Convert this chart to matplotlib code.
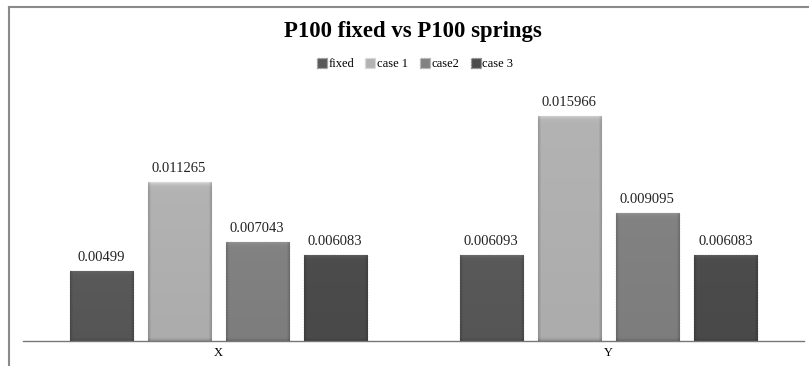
import matplotlib
matplotlib.use("Agg")
import matplotlib.pyplot as plt
from matplotlib.lines import Line2D
from matplotlib.colors import to_rgb
import numpy as np

plt.rcParams['font.family'] = ['Liberation Serif', 'DejaVu Serif']

categories = ["X", "Y"]
series_names = ["fixed", "case 1", "case2", "case 3"]
fixed = [0.00499, 0.006093]
case1 = [0.011265, 0.015966]
case2 = [0.007043, 0.009095]
case3 = [0.006083, 0.006083]
label_text = [["0.00499", "0.006093"], ["0.011265", "0.015966"],
              ["0.007043", "0.009095"], ["0.006083", "0.006083"]]

series = [fixed, case1, case2, case3]
colors = ["#595959", "#b3b3b3", "#828282", "#4c4c4c"]
edges = ["#9a9a9a", "#d8d8d8", "#b0b0b0", "#8c8c8c"]

W, H = 809, 366
fig = plt.figure(figsize=(W / 100, H / 100), dpi=100)
ax = fig.add_axes([23 / W, 25 / H, (803.5 - 23) / W, 254 / H])
ax.set_xlim(-0.5, 1.5)
ax.set_ylim(0, 0.018)


def bevel_image(color, nx=64, ny=200, px_h=100):
    """Shaded bar fill: soft dark rim on the sides/bottom, light top edge."""
    base = np.array(to_rgb(color))
    xs = np.linspace(0, 1, nx)
    ys = np.linspace(0, 1, ny)  # 0 = top, 1 = bottom
    side = np.clip(np.minimum(xs, 1 - xs) * 64 / 3.0, 0, 1)
    shade = 0.85 + 0.15 * side[None, :]
    top_px = ys[:, None] * px_h
    shade = shade + 0.22 * np.exp(-top_px / 2.0) - 0.04 * ys[:, None]
    bot = np.clip((1 - ys) * px_h / 3.0, 0, 1)[:, None]
    shade = shade * (0.85 + 0.15 * bot)
    img = np.clip(base[None, None, :] * shade[:, :, None], 0, 1)
    return img


x = np.arange(len(categories))
width = 0.1615
offsets = [-0.3, -0.1, 0.1, 0.3]
px_per_unit = 254 / 0.018
handles = []
for vals, off, c, ec, name, labs in zip(series, offsets, colors, edges, series_names, label_text):
    bars = ax.bar(x + off, vals, width, color=c, edgecolor=ec, linewidth=1.0,
                  linestyle=(0, (1, 1)), label=name, zorder=2)
    handles.append(bars)
    for b, t in zip(bars, labs):
        x0, h = b.get_x(), b.get_height()
        img = bevel_image(c, px_h=h * px_per_unit)
        im = ax.imshow(img, extent=(x0, x0 + b.get_width(), 0, h), aspect="auto",
                       zorder=2.5, interpolation="bilinear")
        im.set_clip_path(b)
        ax.annotate(t, (x0 + b.get_width() / 2, h),
                    xytext=(0, 5), textcoords="offset points",
                    ha="center", va="bottom", fontsize=10.5, color="#222222")

ax.set_xlim(-0.5, 1.5)
ax.set_ylim(0, 0.018)
ax.set_xticks(x)
ax.set_xticklabels(categories, fontsize=9)
ax.tick_params(axis="x", length=0, pad=4)
ax.set_yticks([])
for s in ["top", "right", "left"]:
    ax.spines[s].set_visible(False)
ax.spines["bottom"].set_color("#777777")
ax.spines["bottom"].set_linewidth(1.0)
ax.spines["bottom"].set_zorder(3)

fig.text(413 / W, 1 - 32 / H, "P100 fixed vs P100 springs", ha="center", va="center",
         fontsize=16.4, fontweight="bold")
fig.legend(handles=handles, labels=series_names, loc="center",
           bbox_to_anchor=(415 / W, 1 - 64 / H), ncol=4, frameon=False,
           fontsize=9, handlelength=0.8, handleheight=0.8, handletextpad=0.15,
           columnspacing=0.9)

# outer chart border
fig.add_artist(Line2D([8.5 / W, 8.5 / W], [0, 1 - 7 / H], color="#8a8a8a", lw=1.5))
fig.add_artist(Line2D([8.5 / W, 1], [1 - 7 / H, 1 - 7 / H], color="#8a8a8a", lw=1.5))

fig.savefig("out.png", dpi=100)
